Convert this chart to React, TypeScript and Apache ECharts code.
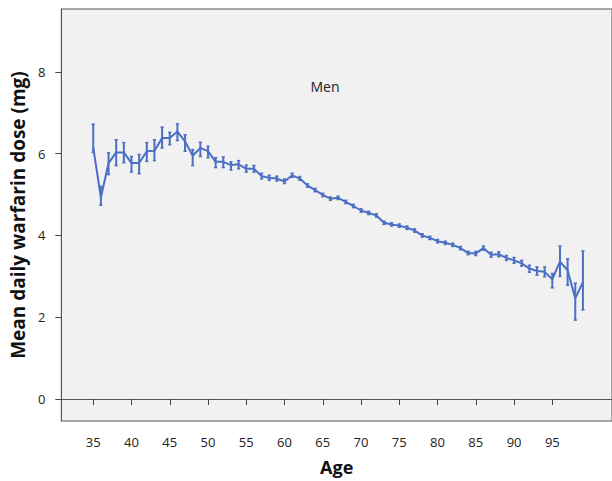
import React, { useEffect, useRef } from "react";
import * as echarts from "echarts";

const ages: number[] = [
  35, 36, 37, 38, 39, 40, 41, 42, 43, 44, 45, 46, 47, 48, 49, 50, 51, 52, 53, 54,
  55, 56, 57, 58, 59, 60, 61, 62, 63, 64, 65, 66, 67, 68, 69, 70, 71, 72, 73, 74,
  75, 76, 77, 78, 79, 80, 81, 82, 83, 84, 85, 86, 87, 88, 89, 90, 91, 92, 93, 94,
  95, 96, 97, 98, 99,
];
const meanDose: number[] = [
  6.15, 4.93, 5.77, 6.03, 6.03, 5.77, 5.77, 6.06, 6.07, 6.38, 6.38, 6.54, 6.3, 5.95, 6.14, 6.06, 5.8, 5.8, 5.72, 5.74,
  5.63, 5.63, 5.45, 5.41, 5.39, 5.32, 5.47, 5.39, 5.22, 5.11, 4.99, 4.9, 4.92, 4.82, 4.72, 4.61, 4.55, 4.49, 4.31, 4.27,
  4.24, 4.19, 4.12, 4.0, 3.94, 3.86, 3.82, 3.77, 3.69, 3.57, 3.56, 3.69, 3.53, 3.54, 3.45, 3.39, 3.32, 3.19, 3.13, 3.11,
  2.93, 3.36, 3.15, 2.46, 2.86,
];
const lowerCI: number[] = [
  6.03, 4.74, 5.49, 5.71, 5.78, 5.55, 5.51, 5.81, 5.83, 6.14, 6.22, 6.32, 6.06, 5.71, 5.93, 5.9, 5.66, 5.66, 5.6, 5.63,
  5.55, 5.55, 5.38, 5.35, 5.33, 5.27, 5.42, 5.35, 5.18, 5.07, 4.95, 4.86, 4.88, 4.78, 4.68, 4.57, 4.51, 4.45, 4.27, 4.23,
  4.2, 4.15, 4.08, 3.96, 3.9, 3.82, 3.78, 3.73, 3.65, 3.53, 3.51, 3.64, 3.47, 3.48, 3.39, 3.32, 3.25, 3.1, 3.03, 2.99,
  2.72, 3.0, 2.78, 1.93, 2.18,
];
const upperCI: number[] = [
  6.72, 5.2, 6.02, 6.34, 6.27, 5.93, 5.98, 6.27, 6.34, 6.65, 6.52, 6.73, 6.46, 6.1, 6.28, 6.18, 5.9, 5.92, 5.8, 5.83,
  5.72, 5.71, 5.52, 5.47, 5.45, 5.38, 5.52, 5.44, 5.26, 5.15, 5.03, 4.94, 4.96, 4.86, 4.76, 4.65, 4.59, 4.53, 4.35, 4.31,
  4.28, 4.23, 4.16, 4.04, 3.98, 3.9, 3.86, 3.81, 3.73, 3.61, 3.61, 3.74, 3.59, 3.6, 3.51, 3.46, 3.39, 3.27, 3.23, 3.23,
  3.07, 3.74, 3.43, 2.83, 3.62,
];
const xTicks: number[] = [35, 40, 45, 50, 55, 60, 65, 70, 75, 80, 85, 90, 95];
const yTicks: number[] = [0, 2, 4, 6, 8];

const LINE_COLOR = "#4a6fc3";
const FONT = "'Open Sans', 'DejaVu Sans', sans-serif";

export default function App() {
  const ref = useRef<HTMLDivElement>(null);
  useEffect(() => {
    if (!ref.current) return;
    const chart = echarts.init(ref.current, null, { renderer: "svg" });
    const lineData = ages.map((a, i) => [a, meanDose[i]]);
    const errData = ages.map((a, i) => [a, lowerCI[i], upperCI[i]]);
    chart.setOption({
      animation: false,
      backgroundColor: "#ffffff",
      grid: {
        left: 60,
        top: 9,
        right: -2,
        bottom: 59,
        show: true,
        backgroundColor: "#f1f1f1",
        borderColor: "#555555",
        borderWidth: 1,
      },
      title: {
        text: "Men",
        left: 320,
        top: 74,
        textAlign: "center",
        textStyle: { fontFamily: FONT, fontSize: 14, fontWeight: "normal", color: "#222" },
      },
      xAxis: {
        type: "value",
        min: 30.83,
        max: 102.8,
        name: "Age",
        nameLocation: "middle",
        nameGap: 37,
        nameTextStyle: { fontFamily: FONT, fontSize: 18, fontWeight: "bold", color: "#111" },
        splitLine: { show: false },
        axisLine: { show: true, lineStyle: { color: "#555555", width: 1 } },
        axisTick: { show: true, length: 6, customValues: xTicks, lineStyle: { color: "#444" } },
        axisLabel: {
          customValues: xTicks,
          margin: 14,
          fontFamily: FONT,
          fontSize: 13,
          color: "#222",
        },
      },
      yAxis: {
        type: "value",
        min: -0.537,
        max: 9.537,
        name: "Mean daily warfarin dose (mg)",
        nameLocation: "middle",
        nameGap: 33,
        nameTextStyle: { fontFamily: FONT, fontSize: 19, fontWeight: "bold", color: "#111" },
        splitLine: { show: false },
        axisLine: { show: true, lineStyle: { color: "#555555", width: 1 } },
        axisTick: { show: true, length: 6, customValues: yTicks, lineStyle: { color: "#444" } },
        axisLabel: {
          customValues: yTicks,
          margin: 16,
          fontFamily: FONT,
          fontSize: 13,
          color: "#222",
        },
      },
      series: [
        {
          type: "line",
          data: lineData,
          symbol: "none",
          lineStyle: { color: LINE_COLOR, width: 2 },
          z: 3,
        },
        {
          type: "custom",
          data: errData,
          encode: { x: 0, y: [1, 2] },
          z: 4,
          renderItem: (params: any, api: any) => {
            const x = api.value(0);
            const lo = api.coord([x, api.value(1)]);
            const hi = api.coord([x, api.value(2)]);
            const half = 1.6;
            return {
              type: "group",
              children: [
                {
                  type: "line",
                  shape: { x1: lo[0], y1: lo[1], x2: hi[0], y2: hi[1] },
                  style: { stroke: LINE_COLOR, lineWidth: 2 },
                },
                {
                  type: "line",
                  shape: { x1: lo[0] - half, y1: lo[1], x2: lo[0] + half, y2: lo[1] },
                  style: { stroke: LINE_COLOR, lineWidth: 1.5 },
                },
                {
                  type: "line",
                  shape: { x1: hi[0] - half, y1: hi[1], x2: hi[0] + half, y2: hi[1] },
                  style: { stroke: LINE_COLOR, lineWidth: 1.5 },
                },
              ],
            };
          },
        },
      ],
    });
    return () => chart.dispose();
  }, []);
  return (
    <div
      ref={ref}
      style={{ position: "fixed", left: 0, top: 0, width: 612, height: 481 }}
    />
  );
}
